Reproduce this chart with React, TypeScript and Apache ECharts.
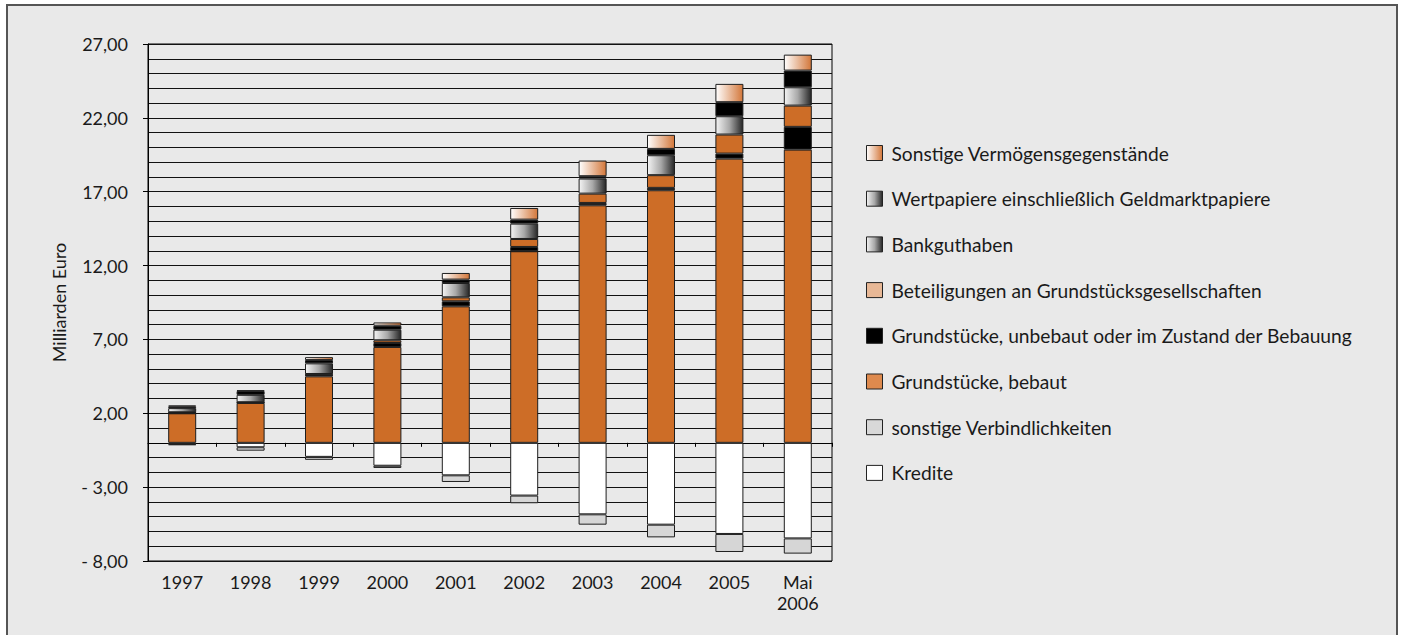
import React, { useEffect, useRef } from "react";
import * as echarts from "echarts";

const categories = ["1997", "1998", "1999", "2000", "2001", "2002", "2003", "2004", "2005", "Mai\n2006"];

const grundstueckeBebaut = [2.0, 2.7, 4.5, 6.49, 9.24, 12.97, 16.08, 17.1, 19.24, 19.85];
const grundstueckeUnbebaut = [0.05, 0.03, 0.14, 0.27, 0.34, 0.29, 0.16, 0.16, 0.34, 1.54];
const beteiligungen = [0.02, 0.02, 0.02, 0.18, 0.27, 0.54, 0.63, 0.86, 1.29, 1.44];
const bankguthaben = [0.28, 0.5, 0.72, 0.72, 0.97, 1.04, 1.02, 1.35, 1.24, 1.24];
const wertpapiere = [0.1, 0.25, 0.22, 0.27, 0.23, 0.27, 0.16, 0.43, 0.95, 1.13];
const sonstigeVermoegen = [0.08, 0.05, 0.2, 0.22, 0.45, 0.79, 1.06, 0.95, 1.24, 1.08];
const kredite = [-0.1, -0.3, -0.95, -1.55, -2.2, -3.57, -4.84, -5.54, -6.17, -6.47];
const sonstigeVerbindlichkeiten = [-0.05, -0.23, -0.2, -0.15, -0.45, -0.52, -0.7, -0.86, -1.22, -1.03];

const legendOrder = [
  "Sonstige Vermögensgegenstände",
  "Wertpapiere einschließlich Geldmarktpapiere",
  "Bankguthaben",
  "Beteiligungen an Grundstücksgesellschaften",
  "Grundstücke, unbebaut oder im Zustand der Bebauung",
  "Grundstücke, bebaut",
  "sonstige Verbindlichkeiten",
  "Kredite",
];

const FONT = "Lato";
const ORANGE = "#CD6D27";

function fmtY(v: number): string {
  const s = Math.abs(v).toFixed(2).replace(".", ",");
  return v < 0 ? "- " + s : s;
}

export default function App() {
  const ref = useRef<HTMLDivElement>(null);

  useEffect(() => {
    if (!ref.current) return;
    const chart = echarts.init(ref.current, undefined, { renderer: "svg" });

    const peachGrad = () =>
      new echarts.graphic.LinearGradient(0, 0, 1, 0, [
        { offset: 0, color: "#FFFFFF" },
        { offset: 1, color: "#D3773A" },
      ]);
    const grayGrad = () =>
      new echarts.graphic.LinearGradient(0, 0, 1, 0, [
        { offset: 0, color: "#F4F4F4" },
        { offset: 0.5, color: "#A8A8A8" },
        { offset: 1, color: "#262626" },
      ]);

    const border = { borderColor: "#1e1e1e", borderWidth: 1 };

    const mk = (name: string, data: number[], color: any) => ({
      name,
      type: "bar",
      stack: "total",
      data,
      barWidth: 28,
      xAxisIndex: 0,
      itemStyle: { color, ...border },
      emphasis: { disabled: true },
    });

    const legendItem = (name: string, color: any) => ({
      name,
      itemStyle: { color, borderColor: "#222", borderWidth: 1 },
    });

    const option: any = {
      animation: false,
      backgroundColor: "#FFFFFF",
      textStyle: { fontFamily: FONT },
      graphic: [
        {
          type: "rect",
          z: -100,
          silent: true,
          shape: { x: 7, y: 5, width: 1390, height: 650 },
          style: { fill: "#E9E9E9", stroke: "#555555", lineWidth: 2 },
        },
      ],
      grid: {
        left: 148,
        top: 44,
        width: 684,
        height: 517,
        show: true,
        borderColor: "#000",
        borderWidth: 1,
        backgroundColor: "transparent",
      },
      legend: {
        orient: "vertical",
        left: 861,
        top: 138,
        itemWidth: 16,
        itemHeight: 15,
        itemGap: 25.7,
        icon: "rect",
        selectedMode: false,
        textStyle: {
          fontFamily: FONT,
          fontSize: 19.2,
          color: "#1a1a1a",
          lineHeight: 20,
          padding: [0, 0, 0, 4],
        },
        data: [
          legendItem(legendOrder[0], peachGrad()),
          legendItem(legendOrder[1], grayGrad()),
          legendItem(legendOrder[2], grayGrad()),
          legendItem(legendOrder[3], "#E8B896"),
          legendItem(legendOrder[4], "#000000"),
          legendItem(legendOrder[5], "#DE8A4E"),
          legendItem(legendOrder[6], "#D8D8D8"),
          legendItem(legendOrder[7], "#FFFFFF"),
        ],
      },
      xAxis: [
        {
          type: "category",
          data: categories,
          position: "bottom",
          boundaryGap: true,
          axisLine: { show: false, onZero: false },
          axisTick: { show: false },
          axisLabel: {
            fontFamily: FONT,
            fontSize: 18,
            color: "#1a1a1a",
            margin: 10,
            lineHeight: 21,
            interval: 0,
          },
          splitLine: { show: false },
        },
        {
          type: "category",
          data: categories,
          position: "top",
          boundaryGap: true,
          axisLine: { show: true, onZero: true, lineStyle: { color: "#000", width: 1 } },
          axisTick: { show: true, inside: true, length: 4, lineStyle: { color: "#000" } },
          axisLabel: { show: false },
          splitLine: { show: false },
        },
      ],
      yAxis: {
        type: "value",
        min: -8,
        max: 27,
        interval: 5,
        name: "Milliarden Euro",
        nameLocation: "middle",
        nameGap: 80,
        nameTextStyle: { fontFamily: FONT, fontSize: 18, color: "#1a1a1a" },
        axisLine: { show: true, lineStyle: { color: "#000", width: 1 } },
        axisTick: { show: true, length: 5, lineStyle: { color: "#000" } },
        axisLabel: {
          fontFamily: FONT,
          fontSize: 18,
          color: "#1a1a1a",
          margin: 20,
          formatter: (v: number) => fmtY(v),
        },
        splitLine: { show: true, lineStyle: { color: "#111", width: 1 } },
        minorTick: { show: false, splitNumber: 5 },
        minorSplitLine: { show: true, lineStyle: { color: "#111", width: 1 } },
      },
      series: [
        mk(legendOrder[5], grundstueckeBebaut, ORANGE),
        mk(legendOrder[4], grundstueckeUnbebaut, "#000000"),
        mk(legendOrder[3], beteiligungen, ORANGE),
        mk(legendOrder[2], bankguthaben, grayGrad()),
        mk(legendOrder[1], wertpapiere, "#000000"),
        mk(legendOrder[0], sonstigeVermoegen, peachGrad()),
        mk(legendOrder[7], kredite, "#FFFFFF"),
        mk(legendOrder[6], sonstigeVerbindlichkeiten, "#D6D6D6"),
      ],
    };

    chart.setOption(option);
    return () => chart.dispose();
  }, []);

  return (
    <div
      ref={ref}
      style={{ position: "absolute", left: 0, top: 0, width: 1402, height: 635 }}
    />
  );
}
